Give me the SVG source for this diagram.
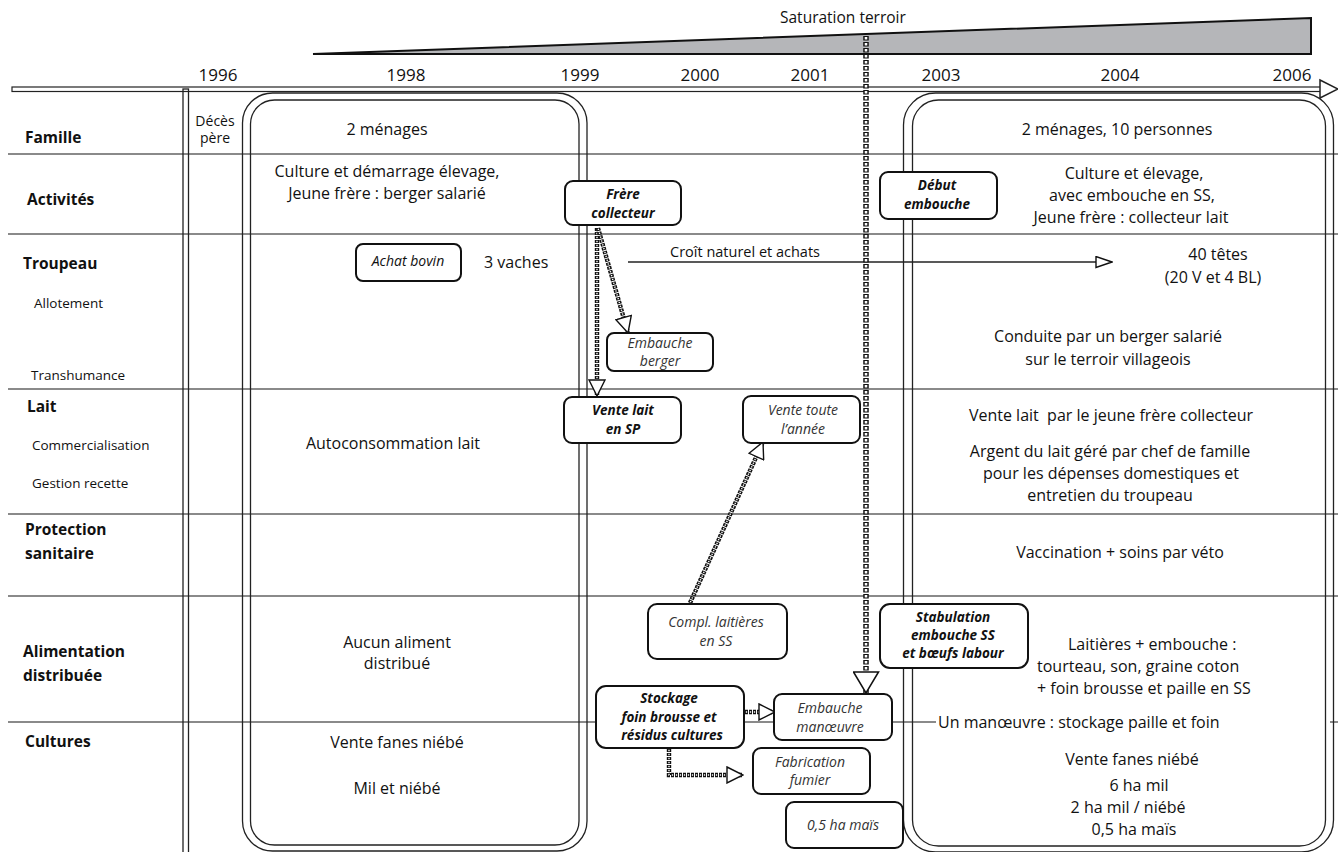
<svg xmlns="http://www.w3.org/2000/svg" width="1338" height="852" viewBox="0 0 1338 852">
  <defs>
    <style>
      text { font-family: "Open Sans", "Liberation Sans", sans-serif; fill: #111; }
      .row { stroke: #8a8a8a; stroke-width: 2; fill: none; }
      .frame { fill: none; stroke: #222; stroke-width: 1.3; }
      .node rect { fill: #fff; stroke: #111; stroke-width: 2; }
      .yr { font-size: 17px; text-anchor: middle; }
      .lab { font-size: 15.5px; font-weight: bold; }
      .sub { font-size: 13.5px; }
      .t { font-size: 16px; text-anchor: middle; }
      .ts { font-size: 16px; }
      .ni { font-size: 14px; font-style: italic; text-anchor: middle; fill: #333; }
      .nb { font-size: 13.5px; font-style: italic; font-weight: bold; text-anchor: middle; }
      .dotB { fill: none; stroke: #111; stroke-width: 5.5; stroke-dasharray: 4.6 1.4; }
      .dotW { fill: none; stroke: #fff; stroke-width: 2.6; stroke-dasharray: 2.6 3.4; stroke-dashoffset: -1; }
      .sdotB { fill: none; stroke: #111; stroke-width: 4.4; stroke-dasharray: 3 1; }
      .sdotW { fill: none; stroke: #fff; stroke-width: 1.4; stroke-dasharray: 1.3 2.7; stroke-dashoffset: -0.85; }
      .solid { fill: none; stroke: #222; stroke-width: 1.6; }
    </style>
    <marker id="triL" markerUnits="userSpaceOnUse" viewBox="0 0 23 27" markerWidth="23" markerHeight="27" refX="22" refY="13.5" orient="auto">
      <path d="M1,1 L22,13.5 L1,26 Z" fill="#fff" stroke="#111" stroke-width="1.5"/>
    </marker>
    <marker id="triM" markerUnits="userSpaceOnUse" viewBox="0 0 18 18" markerWidth="18" markerHeight="18" refX="17" refY="9" orient="auto">
      <path d="M1,1 L17,9 L1,17 Z" fill="#fff" stroke="#111" stroke-width="1.4"/>
    </marker>
    <marker id="triS" markerUnits="userSpaceOnUse" viewBox="0 0 18 13" markerWidth="18" markerHeight="13" refX="17" refY="6.5" orient="auto">
      <path d="M1,1 L17,6.5 L1,12 Z" fill="#fff" stroke="#111" stroke-width="1.4"/>
    </marker>
  </defs>

  <rect width="1338" height="852" fill="#fff"/>

  <!-- saturation wedge -->
  <g id="saturation">
    <polygon points="313,54 1311,18 1311,54" fill="#b5b6b9" stroke="#111" stroke-width="2" stroke-linejoin="miter"/>
    <text x="780" y="23" style="font-size:15.5px">Saturation terroir</text>
  </g>

  <!-- time axis -->
  <g id="timeline">
    <rect x="12" y="87" width="1310" height="4.5" fill="#fff" stroke="#222" stroke-width="1.2"/>
    <polygon points="1320,80 1338,89 1320,98" fill="#fff" stroke="#222" stroke-width="1.5"/>
    <text class="yr" x="218" y="81">1996</text>
    <text class="yr" x="406" y="81">1998</text>
    <text class="yr" x="580" y="81">1999</text>
    <text class="yr" x="700" y="81">2000</text>
    <text class="yr" x="810" y="81">2001</text>
    <text class="yr" x="941" y="81">2003</text>
    <text class="yr" x="1120" y="81">2004</text>
    <text class="yr" x="1292" y="81">2006</text>
  </g>

  <!-- row separators -->
  <g id="rows">
    <line class="row" x1="8" y1="154" x2="1338" y2="154"/>
    <line class="row" x1="8" y1="234" x2="1338" y2="234"/>
    <line class="row" x1="8" y1="389" x2="1338" y2="389"/>
    <line class="row" x1="8" y1="514" x2="1338" y2="514"/>
    <line class="row" x1="8" y1="596" x2="1338" y2="596"/>
    <line class="row" x1="8" y1="722" x2="936" y2="722"/>
    <line class="row" x1="1330" y1="722" x2="1338" y2="722"/>
  </g>

  <!-- period frames -->
  <g id="frames">
    <rect class="frame" x="183" y="89" width="5.5" height="780"/>
    <rect class="frame" x="242.5" y="93" width="344.5" height="758" rx="30"/>
    <rect class="frame" x="250.5" y="100" width="328.5" height="745" rx="24"/>
    <rect class="frame" x="903.5" y="93" width="430" height="759" rx="32"/>
    <rect class="frame" x="912.5" y="100" width="413" height="746" rx="26"/>
  </g>

  <!-- row labels -->
  <g id="labels">
    <text class="lab" x="25" y="143">Famille</text>
    <text class="lab" x="27" y="205">Activités</text>
    <text class="lab" x="23" y="269">Troupeau</text>
    <text class="sub" x="34" y="308">Allotement</text>
    <text class="sub" x="31" y="380">Transhumance</text>
    <text class="lab" x="27" y="412">Lait</text>
    <text class="sub" x="32" y="450">Commercialisation</text>
    <text class="sub" x="32" y="488">Gestion recette</text>
    <text class="lab" x="25" y="535">Protection</text>
    <text class="lab" x="25" y="559">sanitaire</text>
    <text class="lab" x="23" y="657">Alimentation</text>
    <text class="lab" x="23" y="681">distribuée</text>
    <text class="lab" x="25" y="747">Cultures</text>
  </g>

  <!-- 1996 -->
  <g id="deces">
    <text x="215" y="126" style="font-size:14px;text-anchor:middle">Décès</text>
    <text x="215" y="143" style="font-size:14px;text-anchor:middle">père</text>
  </g>

  <!-- 1998-1999 period -->
  <g id="periode-1998">
    <text class="t" x="387" y="135">2 ménages</text>
    <text class="t" x="387" y="177">Culture et démarrage élevage,</text>
    <text class="t" x="387" y="199">Jeune frère : berger salarié</text>
    <text class="ts" x="484" y="268">3 vaches</text>
    <text class="t" x="393" y="449">Autoconsommation lait</text>
    <text class="t" x="397" y="648">Aucun aliment</text>
    <text class="t" x="397" y="669">distribué</text>
    <text class="t" x="397" y="748">Vente fanes niébé</text>
    <text class="t" x="397" y="794">Mil et niébé</text>
  </g>

  <!-- 2003-2006 period -->
  <g id="periode-2003">
    <text class="t" x="1117" y="135">2 ménages, 10 personnes</text>
    <text class="t" x="1134" y="179">Culture et élevage,</text>
    <text class="t" x="1132" y="201">avec embouche en SS,</text>
    <text class="t" x="1131" y="223">Jeune frère : collecteur lait</text>
    <text class="t" x="1218" y="260">40 têtes</text>
    <text class="t" x="1213" y="283">(20 V et 4 BL)</text>
    <text class="t" x="1108" y="342">Conduite par un berger salarié</text>
    <text class="t" x="1108" y="365">sur le terroir villageois</text>
    <text class="t" x="1111" y="421" xml:space="preserve">Vente lait  par le jeune frère collecteur</text>
    <text class="t" x="1110" y="457">Argent du lait géré par chef de famille</text>
    <text class="t" x="1111" y="479">pour les dépenses domestiques et</text>
    <text class="t" x="1110" y="501">entretien du troupeau</text>
    <text class="t" x="1120" y="558">Vaccination + soins par véto</text>
    <text class="ts" x="1068" y="650">Laitières + embouche :</text>
    <text class="ts" x="1037" y="672">tourteau, son, graine coton</text>
    <text class="ts" x="1037" y="694">+ foin brousse et paille en SS</text>
    <text class="ts" x="938" y="728">Un manœuvre : stockage paille et foin</text>
    <text class="t" x="1132" y="765">Vente fanes niébé</text>
    <text class="t" x="1139" y="791">6 ha mil</text>
    <text class="t" x="1128" y="813">2 ha mil / niébé</text>
    <text class="t" x="1134" y="835">0,5 ha maïs</text>
  </g>

  <!-- connectors -->
  <g id="connectors">
    <line class="solid" x1="628" y1="262" x2="1112" y2="262" marker-end="url(#triS)"/>
    <text x="745" y="257" style="font-size:14.5px;text-anchor:middle">Croît naturel et achats</text>

    <path class="sdotB" d="M597,228 V396"/>
    <path class="sdotW" d="M597,228 V396" marker-end="url(#triM)"/>

    <path class="sdotB" d="M598,228 L628,333"/>
    <path class="sdotW" d="M598,228 L628,333" marker-end="url(#triM)"/>

    <path class="sdotB" d="M690,603 L763,442"/>
    <path class="sdotW" d="M690,603 L763,442" marker-end="url(#triM)"/>

    <path class="sdotB" d="M745,712 H775"/>
    <path class="sdotW" d="M745,712 H775" marker-end="url(#triM)"/>

    <path class="sdotB" d="M669,749 V775 H743"/>
    <path class="sdotW" d="M669,749 V775 H743" marker-end="url(#triM)"/>

    <path class="dotB" d="M866,36 V693"/>
    <path class="dotW" d="M866,36 V693" marker-end="url(#triL)"/>
  </g>

  <!-- event boxes -->
  <g id="achat-bovin" class="node">
    <rect x="356" y="244" width="105" height="37" rx="7"/>
    <text class="ni" x="408" y="266" style="fill:#111">Achat bovin</text>
  </g>
  <g id="frere-collecteur" class="node">
    <rect x="565" y="181" width="116" height="44" rx="8"/>
    <text class="nb" x="623" y="199">Frère</text>
    <text class="nb" x="623" y="218">collecteur</text>
  </g>
  <g id="embauche-berger" class="node">
    <rect x="607" y="333" width="106" height="38" rx="7"/>
    <text class="ni" x="660" y="348">Embauche</text>
    <text class="ni" x="660" y="366">berger</text>
  </g>
  <g id="vente-lait-sp" class="node">
    <rect x="564" y="397" width="117" height="46" rx="8"/>
    <text class="nb" x="623" y="415">Vente lait</text>
    <text class="nb" x="623" y="434">en SP</text>
  </g>
  <g id="vente-toute-annee" class="node">
    <rect x="743" y="396" width="117" height="47" rx="8"/>
    <text class="ni" x="803" y="415">Vente toute</text>
    <text class="ni" x="803" y="434">l’année</text>
  </g>
  <g id="debut-embouche" class="node">
    <rect x="880" y="172" width="117" height="47" rx="8"/>
    <text class="nb" x="937" y="190">Début</text>
    <text class="nb" x="937" y="209">embouche</text>
  </g>
  <g id="compl-laitieres" class="node">
    <rect x="648" y="604" width="139" height="55" rx="9"/>
    <text class="ni" x="716" y="627">Compl. laitières</text>
    <text class="ni" x="716" y="646">en SS</text>
  </g>
  <g id="stabulation" class="node">
    <rect x="880" y="604" width="148" height="64" rx="10"/>
    <text class="nb" x="953" y="622">Stabulation</text>
    <text class="nb" x="953" y="640">embouche SS</text>
    <text class="nb" x="953" y="658">et bœufs labour</text>
  </g>
  <g id="stockage" class="node">
    <rect x="596" y="686" width="148" height="62" rx="10"/>
    <text class="nb" x="669" y="703">Stockage</text>
    <text class="nb" x="669" y="722">foin brousse et</text>
    <text class="nb" x="672" y="740">résidus cultures</text>
  </g>
  <g id="embauche-manoeuvre" class="node">
    <rect x="774" y="694" width="118" height="46" rx="8"/>
    <text class="ni" x="830" y="713">Embauche</text>
    <text class="ni" x="830" y="732">manœuvre</text>
  </g>
  <g id="fabrication-fumier" class="node">
    <rect x="753" y="748" width="117" height="46" rx="8"/>
    <text class="ni" x="810" y="767">Fabrication</text>
    <text class="ni" x="810" y="785">fumier</text>
  </g>
  <g id="mais" class="node">
    <rect x="786" y="802" width="117" height="46" rx="8"/>
    <text class="ni" x="843" y="830">0,5 ha maïs</text>
  </g>
</svg>
